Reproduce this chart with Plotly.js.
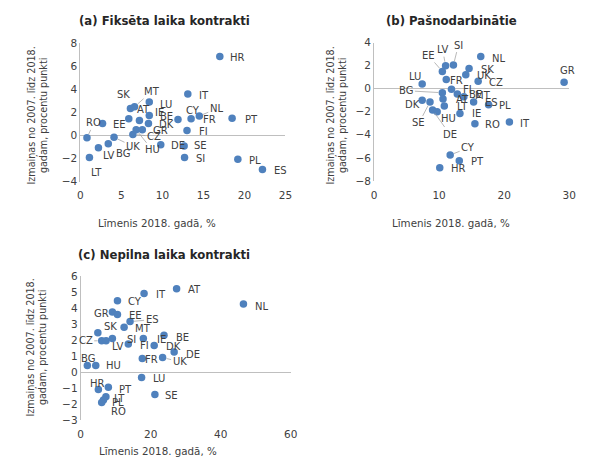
<!DOCTYPE html>
<html>
<head>
<meta charset="utf-8">
<script src="https://cdn.plot.ly/plotly-3.0.1.min.js"></script>
<style>html,body{margin:0;padding:0;background:#fff}#chart{width:607px;height:469px}</style>
</head>
<body>
<div id="chart"></div>
<script>
// ---------- DATA ----------
// (a) Fixed-term contracts
const countriesA = ["RO","LT","LV","EE","BG","UK","BE","SK","MT","CZ","HU","AT","GR","DK","IE","LU","DE","CY","SE","SI","FI","IT","FR","NL","HR","PT","PL","ES"];
const levelA  = [0.8,1.1,2.2,2.7,3.4,4.1,5.9,6.1,6.6,6.4,6.8,7.2,7.55,8.3,8.4,8.4,9.8,11.9,12.65,12.7,13.0,13.1,13.5,14.5,17.0,18.5,19.2,22.2];
const changeA = [-0.2,-1.9,-1.05,1.05,-0.7,-0.15,1.45,2.35,2.5,0.1,0.5,1.3,0.5,1.05,1.75,2.9,-0.8,1.4,-0.9,-1.9,0.45,3.6,1.45,1.7,6.85,1.5,-2.05,-2.95];

// (b) Self-employed
const countriesB = ["NL","SI","LV","EE","SK","UK","CZ","LU","FR","GR","FI","BG","BE","MT","ES","PL","AT","DK","SE","LT","DE","HU","IE","RO","IT","CY","PT","HR"];
const levelB  = [16.4,12.2,11.0,10.5,14.6,14.1,16.0,7.4,11.1,29.2,11.9,10.5,12.8,13.8,15.3,17.6,10.6,7.4,8.6,10.8,9.0,9.7,13.2,15.5,20.8,11.7,13.1,10.1];
const changeB = [2.8,2.05,2.0,1.5,1.75,1.2,0.65,0.4,0.8,0.55,-0.05,-0.35,-0.45,-0.7,-1.15,-1.4,-0.9,-1.0,-1.15,-1.5,-1.85,-2.0,-2.15,-3.05,-2.9,-5.75,-6.25,-6.85];

// (c) Part-time contracts
const countriesC = ["AT","IT","NL","CY","GR","EE","ES","MT","SK","CZ","LV","SI","FI","IE","BE","DK","DE","FR","UK","BG","HU","LU","HR","PT","LT","PL","RO","SE"];
const levelC  = [27.4,18.1,46.5,10.5,9.05,10.5,14.1,12.4,4.9,6.0,7.25,9.05,13.6,17.9,23.8,21.0,26.7,17.6,23.4,1.9,4.3,17.4,5.05,7.9,7.2,6.5,6.0,21.2];
const changeC = [5.2,4.9,4.25,4.45,3.75,3.6,3.15,2.8,2.45,1.95,1.95,2.1,1.75,2.1,2.3,1.65,1.25,0.85,0.9,0.4,0.4,-0.35,-1.1,-0.95,-1.55,-1.75,-1.9,-1.4];

const panelTitles = ["(a) Fiksēta laika kontrakti","(b) Pašnodarbinātie","(c) Nepilna laika kontrakti"];
const xTitle = "Līmenis 2018. gadā, %";
const yTitle = "Izmaiņas no 2007. līdz 2018.<br>gadam, procentu punkti";

// ---------- LABEL PLACEMENT (styling: pixel offsets, L = leader line) ----------
const offA = {HR:[18,1],IT:[16,1],MT:[17,-15,1],SK:[-7,-14],LU:[17,2],AT:[4,-11,1],IE:[10,-3],BE:[38,-2],DK:[18,1],CY:[15,-9],NL:[17,-7,1],FR:[18,1],FI:[16,1],PT:[19,1],PL:[17,1],ES:[18,1],SI:[16,1],SE:[16,0],DE:[17,1],GR:[18,1],CZ:[21,2,1],HU:[16,20,1],UK:[19,9,1],BG:[15,10],LV:[10,8],LT:[7,15],RO:[7,-15,1],EE:[17,1]};
const offB = {NL:[18,2],SI:[5,-20,1],LV:[-3,-16,1],EE:[-14,-16,1],SK:[18,1],UK:[18,1],CZ:[18,1],LU:[-7,-8],FR:[10,1],GR:[3,-12],FI:[16,0],BG:[-36,-2,1],BE:[18,1],MT:[19,-1],ES:[18,1],PL:[16,1],AT:[19,0],DK:[-10,4],SE:[-11,21,1],LT:[18,1],DE:[17,24,1],HU:[11,7],IE:[17,0],RO:[18,1],IT:[16,1],CY:[18,-7,1],PT:[18,1],HR:[19,1]};
const offC = {AT:[18,1],IT:[17,1],NL:[18,2],CY:[18,1],GR:[-11,1],EE:[18,1],ES:[22,-2,1],MT:[19,1],SK:[13,-6],CZ:[-16,0,1],LV:[11,6],SI:[19,1],FI:[16,1],IE:[18,1],BE:[18,2],DK:[19,1],DE:[19,2],FR:[9,1],UK:[17,4,1],BG:[1,-7],HU:[18,0],LU:[17,1],HR:[-1,-6],PT:[17,2],LT:[14,2],PL:[15,2],RO:[17,9],SE:[17,1]};

const FONT = "DejaVu Sans";
const BLUE = "#4F81BD";
const TXT = "#404040";
const LINE = "#BFBFBF";

function trace(xs, ys, names, axSuffix){
  return {type:"scatter", mode:"markers", x:xs, y:ys, text:names, hoverinfo:"text",
    xaxis:"x"+axSuffix, yaxis:"y"+axSuffix,
    marker:{color:BLUE, size:7.5, line:{width:0}}};
}
function labels(xs, ys, names, off, axSuffix){
  return names.map((n,i)=>{
    const o = off[n] || [15,0];
    const base = {x:xs[i], y:ys[i], xref:"x"+axSuffix, yref:"y"+axSuffix, text:n,
      font:{family:FONT,size:10,color:TXT}};
    if(o[2]){
      return Object.assign(base,{showarrow:true, arrowhead:0, arrowwidth:0.8, arrowcolor:"#A6A6A6",
        ax:o[0], ay:o[1], standoff:4});
    }
    return Object.assign(base,{showarrow:false, xshift:o[0], yshift:-o[1]});
  });
}

const traces = [
  trace(levelA, changeA, countriesA, ""),
  trace(levelB, changeB, countriesB, "2"),
  trace(levelC, changeC, countriesC, "3")
];

function xax(domain, range, dtick, anchor){
  return {domain:domain, range:range, dtick:dtick, tick0:0, anchor:anchor,
    showgrid:false, zeroline:false, showline:false,
    ticks:"outside", ticklen:4, tickcolor:"rgba(0,0,0,0)",
    tickfont:{family:FONT,size:10.5,color:TXT}, fixedrange:true};
}
function yax(domain, range, dtick, anchor){
  return {domain:domain, range:range, dtick:dtick, tick0:0, anchor:anchor,
    showgrid:false, zeroline:true, zerolinecolor:LINE, zerolinewidth:1,
    showline:true, linecolor:LINE, linewidth:1, ticks:"",
    tickfont:{family:FONT,size:10.5,color:TXT}, fixedrange:true};
}

const titleFont = {family:FONT, size:11.7, color:"#262626", weight:"bold"};
const axTitleFont = {family:FONT, size:10.3, color:TXT};
const yTitleFont = {family:FONT, size:9.6, color:TXT};

let annotations = []
  .concat(labels(levelA, changeA, countriesA, offA, ""))
  .concat(labels(levelB, changeB, countriesB, offB, "2"))
  .concat(labels(levelC, changeC, countriesC, offC, "3"));

const W = 607, H = 469;
function px(x){return x/W;}
function py(y){return (H-y)/H;}
function paperText(text, x, y, font, angle){
  return {text:text, xref:"paper", yref:"paper", x:px(x), y:py(y), showarrow:false,
    xanchor:"center", yanchor:"middle", font:font, textangle:angle||0};
}
annotations.push(paperText("<b>"+panelTitles[0]+"</b>", 164, 21.5, titleFont));
annotations.push(paperText("<b>"+panelTitles[1]+"</b>", 451.5, 21.5, titleFont));
annotations.push(paperText("<b>"+panelTitles[2]+"</b>", 164, 255, titleFont));
annotations.push(paperText(xTitle, 157, 223, axTitleFont));
annotations.push(paperText(xTitle, 451, 223, axTitleFont));
annotations.push(paperText(xTitle, 158, 451, axTitleFont));
annotations.push(paperText(yTitle, 36.5, 116, yTitleFont, -90));
annotations.push(paperText(yTitle, 335.5, 116, yTitleFont, -90));
annotations.push(paperText(yTitle, 35.5, 348, yTitleFont, -90));

const layout = {
  width:W, height:H, margin:{l:0,r:0,t:0,b:0},
  paper_bgcolor:"#fff", plot_bgcolor:"rgba(0,0,0,0)", showlegend:false,
  font:{family:FONT, color:TXT},
  xaxis: xax([px(80.4), px(285.4)], [0,25], 5, "y"),
  yaxis: yax([py(181.7), py(43.3)], [-4,8], 2, "x"),
  xaxis2: xax([px(374), px(569.3)], [0,30], 10, "y2"),
  yaxis2: yax([py(180.9), py(42.6)], [-8,4], 2, "x2"),
  xaxis3: xax([px(80.7), px(290.7)], [0,60], 20, "y3"),
  yaxis3: yax([py(420), py(276)], [-3,6], 1, "x3"),
  annotations: annotations
};

Plotly.newPlot("chart", traces, layout, {displayModeBar:false, staticPlot:true});
</script>
</body>
</html>
